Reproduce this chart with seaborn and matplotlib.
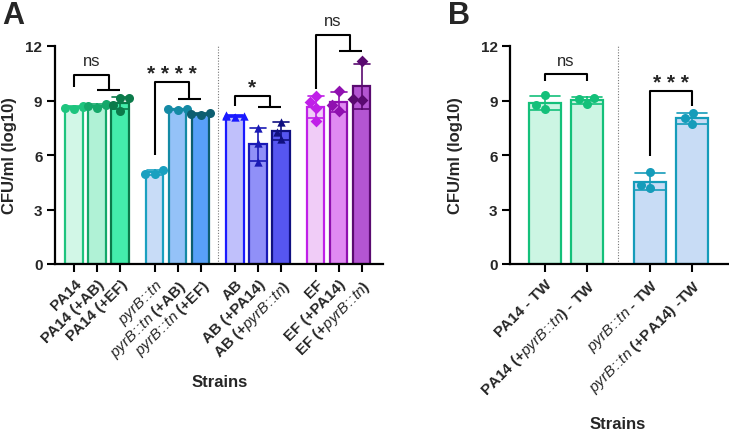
import numpy as np
import pandas as pd
import matplotlib
matplotlib.use('Agg')
import matplotlib.pyplot as plt
import seaborn as sns

# panel A: strains, group membership and replicate CFU values (log10)
strains_a = ['PA14', 'PA14 (+AB)', 'PA14 (+EF)',
             'pyrB::tn', 'pyrB::tn (+AB)', 'pyrB::tn (+EF)',
             'AB', 'AB (+PA14)', 'AB (+pyrB::tn)',
             'EF', 'EF (+PA14)', 'EF (+pyrB::tn)']
groups_a = [0, 0, 0, 1, 1, 1, 2, 2, 2, 3, 3, 3]
reps_a = [[8.55, 8.65, 8.6, 8.7],
          [8.6, 8.75, 8.7, 8.8],
          [9.14, 9.14, 8.77, 8.44],
          [5.2, 4.95, 4.98],
          [8.55, 8.5, 8.52],
          [8.3, 8.2, 8.25],
          [8.15, 8.2, 8.1, 8.15],
          [7.47, 6.66, 5.63],
          [7.83, 7.28, 6.88],
          [8.9, 9.26, 8.57, 7.85],
          [9.54, 8.44, 8.75],
          [11.2, 9.05, 9.1]]
labels_a = ['PA14', 'PA14 (+AB)', 'PA14 (+EF)',
            r'$\mathit{pyrB\!:\!\!:\!tn}$',
            r'$\mathit{pyrB\!:\!\!:\!tn}$ (+AB)',
            r'$\mathit{pyrB\!:\!\!:\!tn}$ (+EF)',
            'AB', 'AB (+PA14)', r'AB (+$\mathit{pyrB\!:\!\!:\!tn}$)',
            'EF', 'EF (+PA14)', r'EF (+$\mathit{pyrB\!:\!\!:\!tn}$)']
fills_a = ['#d2f7e7', '#b0f2d6', '#44ecab',
           '#c8dcf7', '#94c2f8', '#58a0f8',
           '#c0c0fb', '#9090f8', '#5656f0',
           '#f0ccf7', '#e08af2', '#b455d2']
edges_a = ['#1ec47e', '#15a86a', '#0b7a4a',
           '#1aa0c0', '#148aa5', '#0d5e70',
           '#1a1aff', '#1a1ab5', '#101080',
           '#c020e8', '#9010b0', '#5a0a70']
markers_a = ['o', 'o', 'o', 'o', 'o', 'o', '^', '^', '^', 'D', 'D', 'D']

# panel B
strains_b = ['PA14 - TW', 'PA14 (+pyrB::tn) - TW', 'pyrB::tn - TW', 'pyrB::tn (+PA14) -TW']
groups_b = [0, 0, 1, 1]
reps_b = [[9.32, 8.55, 8.75],
          [8.8, 9.15, 9.1],
          [5.05, 4.18, 4.35],
          [8.31, 7.69, 8.04]]
labels_b = ['PA14 - TW', r'PA14 (+$\mathit{pyrB\!:\!\!:\!tn}$) - TW',
            r'$\mathit{pyrB\!:\!\!:\!tn}$ - TW', r'$\mathit{pyrB\!:\!\!:\!tn}$ (+PA14) -TW']
fills_b = ['#ccf5e3', '#ccf5e3', '#c8dcf5', '#c8dcf5']
edges_b = ['#14c07a', '#14c07a', '#159cba', '#159cba']
markers_b = ['o', 'o', 'o', 'o']

sns.set_style('ticks')
plt.rcParams['font.family'] = ['Liberation Sans', 'DejaVu Sans']
plt.rcParams['mathtext.fontset'] = 'custom'
plt.rcParams['mathtext.it'] = 'Liberation Sans:italic'
plt.rcParams['mathtext.rm'] = 'Liberation Sans'
plt.rcParams['mathtext.bf'] = 'Liberation Sans:bold'


def make_df(strains, groups, reps):
    rows = []
    for i, s in enumerate(strains):
        pos = i + groups[i] * 0.5
        for v in reps[i]:
            rows.append({'strain': s, 'pos': pos, 'cfu': v})
    return pd.DataFrame(rows)


def draw_panel(ax, df, strains, fills, edges, markers, labels):
    for i, s in enumerate(strains):
        sub = df[df['strain'] == s]
        sns.barplot(data=sub, x='pos', y='cfu', native_scale=True, color=fills[i],
                    saturation=1, edgecolor=edges[i], linewidth=1.6, width=0.75,
                    errorbar='sd', capsize=0.7,
                    err_kws={'color': edges[i], 'linewidth': 1.2}, ax=ax)
        sns.swarmplot(data=sub, x='pos', y='cfu', native_scale=True, color=edges[i],
                      marker=markers[i], size=6.5 if markers[i] == 'o' else 6, ax=ax)
    pos = sorted(df['pos'].unique())
    ax.set_xticks(pos)
    ax.set_xticklabels(labels, rotation=45, ha='right', rotation_mode='anchor',
                       fontsize=11, fontweight='bold')
    ax.set_ylim(0, 12)
    ax.set_yticks([0, 3, 6, 9, 12])
    ax.set_yticklabels(['0', '3', '6', '9', '12'], fontsize=11, fontweight='bold')
    ax.tick_params(width=1.5, length=6, color='black', pad=3)
    for sp in ['left', 'bottom']:
        ax.spines[sp].set_linewidth(1.6)
        ax.spines[sp].set_color('black')
    sns.despine(ax=ax)
    ax.set_xlabel('Strains', fontsize=12, fontweight='bold')
    ax.set_ylabel('CFU/ml (log10)', fontsize=12, fontweight='bold')


def bracket(ax, xl, yl, ytop, xr, yr, span, text, ty, fs, fw='normal'):
    kw = dict(color='black', lw=1.5, clip_on=False, solid_capstyle='butt')
    ax.plot([xl, xl, xr, xr], [yl, ytop, ytop, yr], **kw)
    if span is not None:
        ax.plot(span, [yr, yr], **kw)
    ax.text((xl + xr) / 2, ty, text, ha='center', va='baseline', fontsize=fs,
            fontweight=fw, clip_on=False)


fig = plt.figure(figsize=(7.29, 4.31), dpi=100)
W, H = 729, 431
ax_a = fig.add_axes([55 / W, (H - 265) / H, 328 / W, 218 / H])
ax_b = fig.add_axes([510 / W, (H - 265) / H, 219 / W, 218 / H])

df_a = make_df(strains_a, groups_a, reps_a)
df_b = make_df(strains_b, groups_b, reps_b)

draw_panel(ax_a, df_a, strains_a, fills_a, edges_a, markers_a, labels_a)
draw_panel(ax_b, df_b, strains_b, fills_b, edges_b, markers_b, labels_b)

ax_a.set_xlim(-0.83, 13.43)
ax_b.set_xlim(-0.83, 4.38)
ax_a.axvline(6.25, color='#777777', ls=(0, (1, 1.5)), lw=0.8)
ax_b.axvline(1.75, color='#777777', ls=(0, (1, 1.5)), lw=0.8)

ax_a.yaxis.set_label_coords(-0.116, 0.5)
ax_b.yaxis.set_label_coords(-0.215, 0.5)
ax_a.xaxis.set_label_coords(220 / W, 1 - 375 / H, transform=fig.transFigure)
ax_b.xaxis.set_label_coords(618 / W, 1 - 417 / H, transform=fig.transFigure)

# significance brackets
bracket(ax_a, 0, 9.72, 10.4, 1.5, 9.6, [1, 2], 'ns', 10.95, 12)
bracket(ax_a, 3.5, 6.0, 10.0, 5.0, 9.08, [4.5, 5.5], '* * * *', 10.2, 15, 'bold')
bracket(ax_a, 7, 8.7, 9.23, 8.5, 8.62, [8, 9], '*', 9.45, 15, 'bold')
bracket(ax_a, 10.5, 9.63, 12.6, 12.0, 11.74, [11.5, 12.5], 'ns', 13.15, 12)
bracket(ax_b, 0, 10.1, 10.46, 1, 10.1, None, 'ns', 10.95, 12)
bracket(ax_b, 2.5, 5.96, 9.54, 3.5, 8.71, None, '* * *', 9.7, 15, 'bold')

fig.text(2 / W, 1 - 24 / H, 'A', fontsize=22, fontweight='bold')
fig.text(448 / W, 1 - 24 / H, 'B', fontsize=22, fontweight='bold')

fig.savefig('out.png', dpi=100)
